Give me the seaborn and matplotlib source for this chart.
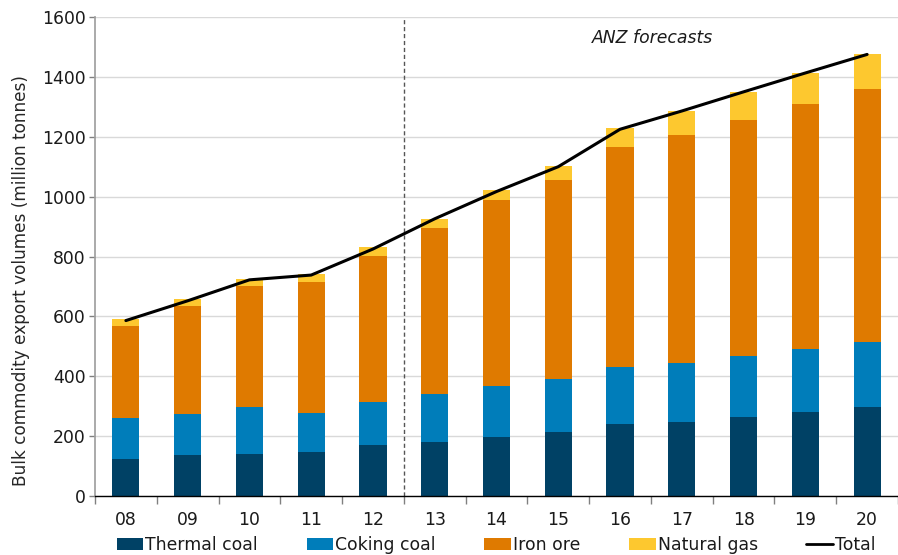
import numpy as np
import pandas as pd
import seaborn as sns
import matplotlib.pyplot as plt
from matplotlib.patches import Patch
from matplotlib.lines import Line2D

# データ
years = ['08', '09', '10', '11', '12', '13', '14', '15', '16', '17', '18', '19', '20']
thermal = [123, 138, 141, 146, 170, 181, 198, 215, 240, 247, 265, 282, 297]
coking = [137, 135, 157, 132, 144, 159, 169, 177, 192, 196, 203, 209, 218]
iron = [309, 362, 403, 437, 489, 554, 622, 665, 734, 763, 789, 817, 845]
gas = [22, 22, 24, 25, 30, 31, 33, 44, 63, 80, 92, 105, 116]
total = [586, 652, 722, 738, 825, 926, 1017, 1100, 1225, 1286, 1350, 1413, 1475]

names = ['Thermal coal', 'Coking coal', 'Iron ore', 'Natural gas']
colors = ['#004165', '#007DBA', '#DF7A00', '#FDC82F']

df = pd.DataFrame({'year': years, 'Thermal coal': thermal, 'Coking coal': coking,
                   'Iron ore': iron, 'Natural gas': gas})

sns.set_theme(style='white')
plt.rcParams['font.family'] = ['DejaVu Sans']
plt.rcParams['font.size'] = 12.4
plt.rcParams['text.color'] = '#1a1a1a'

fig = plt.figure(figsize=(8.98, 5.55), dpi=100)
ax = fig.add_axes([95 / 898, 1 - 496 / 555, 1 - 95 / 898, (496 - 17) / 555])

# 積み上げ（大きい方から重ねる）
cum = df[names].cumsum(axis=1)
for name, col in reversed(list(zip(names, colors))):
    sns.barplot(x=df['year'], y=cum[name], color=col, saturation=1, width=0.44,
                errorbar=None, linewidth=0, ax=ax, zorder=2)

sns.lineplot(x=np.arange(len(years)), y=total, color='black', linewidth=2.2, ax=ax, zorder=3)

ax.axvline(4.5, color='#555555', linestyle=(0, (3, 2)), linewidth=1, zorder=1)
ax.text(8.53, 1530, 'ANZ forecasts', fontstyle='italic', fontsize=12.4, ha='center', va='center')

ax.set_xlim(-0.5, 12.5)
ax.set_ylim(0, 1600)
ax.set_yticks(np.arange(0, 1601, 200))
ax.set_xticks(np.arange(len(years)))
ax.set_xticklabels(years)
ax.set_xticks(np.arange(-0.5, 13, 1), minor=True)
ax.tick_params(axis='x', which='major', length=0, pad=11, labelsize=12.4, labelcolor='#1a1a1a')
ax.tick_params(axis='x', which='minor', length=6, width=1, color='#808080', direction='out', bottom=True)
ax.tick_params(axis='y', length=4, width=1, color='#808080', direction='out', left=True, pad=2.5,
               labelsize=12.4, labelcolor='#1a1a1a')

ax.yaxis.grid(True, color='#d9d9d9', linewidth=1)
ax.set_axisbelow(True)
ax.set_xlabel('')
ax.set_ylabel('Bulk commodity export volumes (million tonnes)', fontsize=12.2)
ax.yaxis.set_label_coords(-0.081, 0.449)

for s in ['top', 'right']:
    ax.spines[s].set_visible(False)
ax.spines['left'].set_color('#a0a0a0')
ax.spines['bottom'].set_color('black')
ax.spines['bottom'].set_linewidth(1)

handles = [Patch(facecolor=c, edgecolor='none') for c in colors]
handles.append(Line2D([0], [0], color='black', linewidth=2))
fig.legend(handles, names + ['Total'], loc='center left', bbox_to_anchor=(108 / 898, 1 - 545 / 555),
           ncol=5, frameon=False, borderpad=0, handlelength=1.56, handleheight=0.7,
           handletextpad=0.1, columnspacing=2.83, fontsize=12.4)

fig.savefig('out.png', dpi=100)
